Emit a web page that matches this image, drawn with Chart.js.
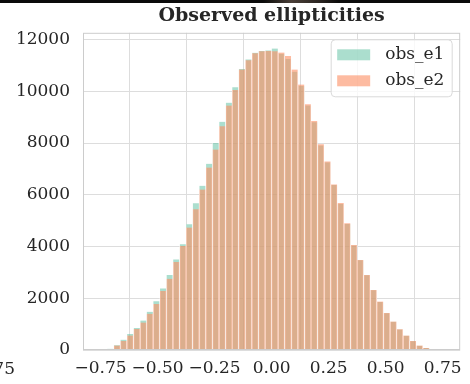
<!DOCTYPE html>
<html><head><meta charset="utf-8">
<script src="https://cdn.jsdelivr.net/npm/chart.js@4.4.1/dist/chart.umd.min.js"></script>
<style>
html,body{margin:0;padding:0;background:#fff;}
#wrap{position:relative;width:470px;height:384px;overflow:hidden;background:#fff;}
#c{position:absolute;left:0;top:0;width:470px;height:384px;}
#topband{position:absolute;left:0;top:0;width:470px;height:3px;background:linear-gradient(to right,#0b0b0b 0%,#0b0b0b 56%,#4a3f38 62%,#2a2420 68%,#0b0b0b 72%,#0b0b0b 100%);}
#side{position:absolute;right:455px;top:358px;font:17px 'DejaVu Serif';color:#262626;white-space:nowrap;}
</style></head>
<body><div id="wrap"><canvas id="c" width="470" height="384"></canvas><div id="topband"></div><div id="side">0.75</div></div>
<script>
const TITLE = 'Observed ellipticities';
const SERIES_NAMES = ['obs_e1', 'obs_e2'];
const BIN_CENTERS = [-0.707,-0.678,-0.649,-0.620,-0.591,-0.562,-0.534,-0.505,-0.476,-0.447,
  -0.418,-0.389,-0.361,-0.332,-0.303,-0.274,-0.245,-0.216,-0.187,-0.159,
  -0.130,-0.101,-0.072,-0.043,-0.014,0.014,0.043,0.072,0.101,0.130,
  0.159,0.187,0.216,0.245,0.274,0.303,0.332,0.361,0.389,0.418,
  0.447,0.476,0.505,0.534,0.562,0.591,0.620,0.649,0.678,0.707];
const OBS_E1 = [45,180,400,620,850,1140,1480,1880,2380,2900,
  3500,4090,4860,5670,6350,7200,8000,8820,9560,10160,
  10860,11230,11490,11560,11580,11650,11450,11250,10750,10200,
  9450,8800,7900,7250,6380,5640,4870,4040,3470,2890,
  2310,1860,1420,1090,790,550,340,165,75,28];
const OBS_E2 = [40,170,350,560,810,1060,1400,1780,2280,2750,
  3400,4020,4730,5440,6200,7050,7750,8650,9450,10050,
  10840,11200,11470,11550,11560,11550,11500,11360,10840,10260,
  9500,8850,7950,7290,6400,5680,4900,4060,3480,2900,
  2320,1870,1430,1100,800,560,350,170,80,30];
const X_TICKS = [-0.75,-0.5,-0.25,0,0.25,0.5,0.75];
const Y_TICKS = [0,2000,4000,6000,8000,10000,12000];

const COLORS = ['rgba(102,194,165,0.55)', 'rgba(252,141,98,0.6)'];
const FONT = "'DejaVu Serif', 'Liberation Serif', serif";
const TEXT = '#262626';

const frameAndLegend = {
  id: 'frameAndLegend',
  afterDatasetsDraw(chart) {
    const ca = chart.chartArea, ctx = chart.ctx;
    ctx.save();
    ctx.strokeStyle = '#cccccc';
    ctx.lineWidth = 1;
    ctx.strokeRect(ca.left + 0.5, ca.top + 0.5, ca.right - ca.left - 1, ca.bottom - ca.top - 1);
    const bx = ca.right - 129, by = ca.top + 7, bw = 121, bh = 57, r = 4;
    ctx.beginPath();
    ctx.moveTo(bx + r, by);
    ctx.arcTo(bx + bw, by, bx + bw, by + bh, r);
    ctx.arcTo(bx + bw, by + bh, bx, by + bh, r);
    ctx.arcTo(bx, by + bh, bx, by, r);
    ctx.arcTo(bx, by, bx + bw, by, r);
    ctx.closePath();
    ctx.fillStyle = 'rgba(255,255,255,0.8)';
    ctx.fill();
    ctx.strokeStyle = '#d9d9d9';
    ctx.stroke();
    ctx.font = '17px ' + FONT;
    ctx.textBaseline = 'middle';
    ctx.textAlign = 'left';
    SERIES_NAMES.forEach((name, i) => {
      const y = by + 15 + i * 26;
      ctx.fillStyle = COLORS[i];
      ctx.fillRect(bx + 6, y - 5.5, 33, 11);
      ctx.fillStyle = TEXT;
      ctx.fillText(name, bx + 54, y);
    });
    ctx.restore();
  }
};

const mk = (vals) => BIN_CENTERS.map((x, i) => ({x: x, y: vals[i]}));

new Chart(document.getElementById('c'), {
  type: 'bar',
  data: {
    datasets: [
      {label: SERIES_NAMES[0], data: mk(OBS_E1), backgroundColor: COLORS[0], order: 1,
       borderColor: 'rgba(255,255,255,0.8)', borderWidth: {left: 0.5, right: 0.5, top: 0, bottom: 0},
       barPercentage: 1, categoryPercentage: 1, grouped: false},
      {label: SERIES_NAMES[1], data: mk(OBS_E2), backgroundColor: COLORS[1], order: 0,
       borderColor: 'rgba(255,255,255,0.8)', borderWidth: {left: 0.5, right: 0.5, top: 0, bottom: 0},
       barPercentage: 1, categoryPercentage: 1, grouped: false}
    ]
  },
  options: {
    responsive: false,
    animation: false,
    layout: {padding: {left: 0, right: 7, top: 0, bottom: 0}},
    plugins: {
      legend: {display: false},
      tooltip: {enabled: false},
      title: {display: true, text: TITLE, fullSize: false, color: TEXT,
        font: {family: FONT, size: 19, weight: 'bold'}, padding: {top: 5, bottom: 5}}
    },
    scales: {
      x: {
        type: 'linear', min: -0.827, max: 0.827, offset: false,
        afterBuildTicks: (s) => { s.ticks = X_TICKS.map(v => ({value: v})); },
        afterFit: (s) => { s.height = 34; },
        ticks: {color: TEXT, font: {family: FONT, size: 17}, padding: 8, maxRotation: 0, autoSkip: false,
          callback: (v) => (v < 0 ? '\u2212' : '') + Math.abs(v).toFixed(2)},
        grid: {color: '#dddddd', drawTicks: false},
        border: {display: false}
      },
      y: {
        min: 0, max: 12260,
        afterBuildTicks: (s) => { s.ticks = Y_TICKS.map(v => ({value: v})); },
        afterFit: (s) => { s.width = 83; },
        ticks: {color: TEXT, font: {family: FONT, size: 17}, padding: 13, autoSkip: false,
          callback: (v) => String(v)},
        grid: {color: '#dddddd', drawTicks: false},
        border: {display: false}
      }
    }
  },
  plugins: [frameAndLegend]
});
</script>
</body></html>
